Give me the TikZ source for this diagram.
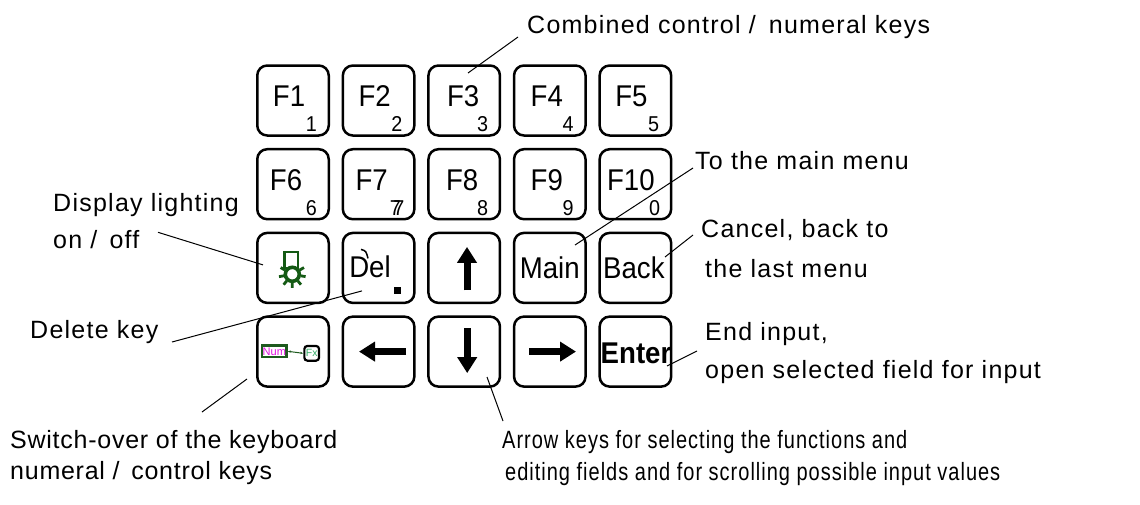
\documentclass[tikz,border=0pt]{standalone}
\usepackage{fontspec}
\setmainfont{Liberation Sans}
\newfontfamily\keyfont{Liberation Sans}[FakeStretch=0.92]
\newfontfamily\notefont{Liberation Sans}[LetterSpace=5]
\newfontfamily\tightfont{Liberation Sans}[LetterSpace=3]
\newfontfamily\narrowfont{Liberation Sans}[FakeStretch=0.8,LetterSpace=4]
\usetikzlibrary{arrows.meta}
\usetikzlibrary{positioning}
\definecolor{lampgreen}{HTML}{145A14}
\definecolor{numgreen}{HTML}{1E5A1E}
\definecolor{fxgreen}{HTML}{33AA66}
\definecolor{nummagenta}{HTML}{E010E0}

\begin{document}
\begin{tikzpicture}[x=1pt,y=-1pt,node distance=11.2pt and 11.6pt]
\tikzset{kbkey/.style={rectangle,draw,line width=2.5pt,rounded corners=10pt,minimum width=71.5pt,minimum height=70pt,inner sep=0pt}}
\tikzset{fname/.style={inner sep=0pt,font=\keyfont\fontsize{30}{30}\selectfont}}
\tikzset{fdigit/.style={inner sep=0pt,anchor=south east,font=\keyfont\fontsize{21.5}{21.5}\selectfont}}
\tikzset{note/.style={inner sep=0pt,anchor=base west,align=left,font=\notefont\fontsize{25}{37}\selectfont}}
\tikzset{pointer/.style={line width=1pt}}
\tikzset{keyarrow/.style={line width=7pt,-{Triangle[length=16pt,width=19pt]}}}
\useasboundingbox (0,0) rectangle (1140,504);
% row 1
\node[kbkey](f1) at (293,100.5){};
\node[kbkey](f2)[right=of f1]{};
\node[kbkey](f3)[right=of f2]{};
\node[kbkey](f4)[right=of f3]{};
\node[kbkey](f5)[right=of f4]{};
% row 2
\node[kbkey](f6)[below=of f1]{};
\node[kbkey](f7)[right=of f6]{};
\node[kbkey](f8)[right=of f7]{};
\node[kbkey](f9)[right=of f8]{};
\node[kbkey](f10)[right=of f9]{};
% row 3
\node[kbkey](light)[below=of f6]{};
\node[kbkey](del)[right=of light]{};
\node[kbkey](arrup)[right=of del]{};
\node[kbkey](main)[right=of arrup]{};
\node[kbkey](back)[right=of main]{};
% row 4
\node[kbkey](numfx)[below=of light]{};
\node[kbkey](arrleft)[right=of numfx]{};
\node[kbkey](arrdown)[right=of arrleft]{};
\node[kbkey](arrright)[right=of arrdown]{};
\node[kbkey](enter)[right=of arrright]{};
% key faces
\node[fname] at ([shift={(-4,-4.5)}]f1.center){F1};
\node[fdigit] at ([shift={(-13,-5)}]f1.south east){1};
\node[fname] at ([shift={(-4,-4.5)}]f2.center){F2};
\node[fdigit] at ([shift={(-13,-5)}]f2.south east){2};
\node[fname] at ([shift={(-1,-4.5)}]f3.center){F3};
\node[fdigit] at ([shift={(-13,-5)}]f3.south east){3};
\node[fname] at ([shift={(-3,-4.5)}]f4.center){F4};
\node[fdigit] at ([shift={(-13,-5)}]f4.south east){4};
\node[fname] at ([shift={(-4,-4.5)}]f5.center){F5};
\node[fdigit] at ([shift={(-13,-5)}]f5.south east){5};
\node[fname] at ([shift={(-7,-4.5)}]f6.center){F6};
\node[fdigit] at ([shift={(-13,-5)}]f6.south east){6};
\node[fname] at ([shift={(-7,-4.5)}]f7.center){F7};
\node[fdigit] at ([shift={(-11,-5)}]f7.south east){7\kern-7.5pt7};
\node[fname] at ([shift={(-2,-4.5)}]f8.center){F8};
\node[fdigit] at ([shift={(-13,-5)}]f8.south east){8};
\node[fname] at ([shift={(-3,-4.5)}]f9.center){F9};
\node[fdigit] at ([shift={(-13,-5)}]f9.south east){9};
\node[fname] at ([shift={(-4.5,-4.5)}]f10.center){F10};
\node[fdigit] at ([shift={(-12,-5)}]f10.south east){0};
% lamp symbol
\draw[lampgreen,line width=2.8pt] ([shift={(-8.5,-16)}]light.center) rectangle ([shift={(5,0)}]light.center);
\draw[lampgreen,line width=2.8pt] ([shift={(-0.7,6.4)}]light.center) ++(150:8.5pt) -- ++(150:5pt)
  ([shift={(-0.7,6.4)}]light.center) ++(190:8.5pt) -- ++(190:5pt)
  ([shift={(-0.7,6.4)}]light.center) ++(230:8.5pt) -- ++(230:5pt)
  ([shift={(-0.7,6.4)}]light.center) ++(270:8.5pt) -- ++(270:5pt)
  ([shift={(-0.7,6.4)}]light.center) ++(310:8.5pt) -- ++(310:5pt)
  ([shift={(-0.7,6.4)}]light.center) ++(350:8.5pt) -- ++(350:5pt)
  ([shift={(-0.7,6.4)}]light.center) ++(30:8.5pt) -- ++(30:5pt);
\draw[lampgreen,line width=3.6pt,fill=white] ([shift={(-0.7,6.4)}]light.center) circle (7pt);
% delete key
\node[fname] at ([shift={(-8.6,-1)}]del.center){Del};
\fill ([shift={(15.5,19.5)}]del.center) rectangle ([shift={(22.5,26.5)}]del.center);
\draw[line width=1.5pt] ([shift={(-17.6,-18.5)}]del.center) .. controls ([shift={(-12.6,-17)}]del.center) .. ([shift={(-10.6,-9.5)}]del.center);
\node[fname] at (main.center){Main};
\node[fname] at ([shift={(-1.5,0)}]back.center){Back};
\node[fname,font=\keyfont\bfseries\fontsize{30}{30}\selectfont] at ([shift={(0.6,2)}]enter.center){Enter};
% arrow keys
\draw[keyarrow] ([shift={(2.8,22.5)}]arrup.center) -- ([shift={(2.8,-21)}]arrup.center);
\draw[keyarrow] ([shift={(3,-23.5)}]arrdown.center) -- ([shift={(3,21.5)}]arrdown.center);
\draw[keyarrow] ([shift={(27.4,0)}]arrleft.center) -- ([shift={(-19.6,0)}]arrleft.center);
\draw[keyarrow] ([shift={(-20.8,0)}]arrright.center) -- ([shift={(26.2,0)}]arrright.center);
% num / fx symbol
\node[draw=numgreen,line width=2.4pt,fill=white,text=nummagenta,font=\fontsize{11}{11}\selectfont,inner sep=0pt,minimum width=24.5pt,minimum height=11.8pt](numbox) at ([shift={(-18.65,-0.3)}]numfx.center){Num};
\node[draw,line width=2.2pt,rounded corners=3pt,text=fxgreen,font=\fontsize{10.5}{10.5}\selectfont,inner sep=0pt,minimum width=14.7pt,minimum height=14.7pt](fxbox) at ([shift={(18.7,1.7)}]numfx.center){Fx};
\draw[numgreen,line width=1pt,{Stealth[length=3pt]}-{Stealth[length=3pt]}] (numbox.east) -- (fxbox.west);
% notes
\node[note](comb) at (527,33){Combined control /\hspace{5pt} numeral keys};
\node[note](lamp) at (53,248.3){Display lighting\\on /\hspace{4pt} off};
\node[note](delnote) at (30,338){Delete key};
\node[note,font=\tightfont\fontsize{25}{31}\selectfont](switchnote) at (10,479){Switch-over of the keyboard\\numeral /\hspace{4pt} control keys};
\node[note,font=\narrowfont\fontsize{25}{32}\selectfont](arrownote) at (502,480){Arrow keys for selecting the functions and\\\hspace{3pt}editing fields and for scrolling possible input values};
\node[note](mainnote) at (695,169){To the main menu};
\node[note,font=\notefont\fontsize{25}{40}\selectfont](backnote) at (701,277){Cancel, back to\\\hspace{4pt}the last menu};
\node[note,font=\notefont\fontsize{25}{38}\selectfont](enternote) at (705,378){End input,\\open selected field for input};
% pointers
\draw[pointer] ([shift={(3.8,-27.5)}]f3.center) -- ([shift={(-9,4)}]comb.base west);
\draw[pointer] ([shift={(105,-16)}]lamp.base west) -- ([shift={(-30,-3)}]light.center);
\draw[pointer] ([shift={(142,4)}]delnote.base west) -- ([shift={(-16.6,23)}]del.center);
\draw[pointer] ([shift={(192,-67)}]switchnote.base west) -- ([shift={(-46,27.4)}]numfx.center);
\draw[pointer] ([shift={(22.8,25.4)}]arrdown.center) -- ([shift={(1,-59)}]arrownote.base west);
\draw[pointer] ([shift={(25.2,-22.9)}]main.center) -- ([shift={(-2,-1)}]mainnote.base west);
\draw[pointer] ([shift={(29.6,-10.9)}]back.center) -- ([shift={(-8,-42)}]backnote.base west);
\draw[pointer] ([shift={(31.6,14.4)}]enter.center) -- ([shift={(-8,-27)}]enternote.base west);
\end{tikzpicture}
\end{document}
